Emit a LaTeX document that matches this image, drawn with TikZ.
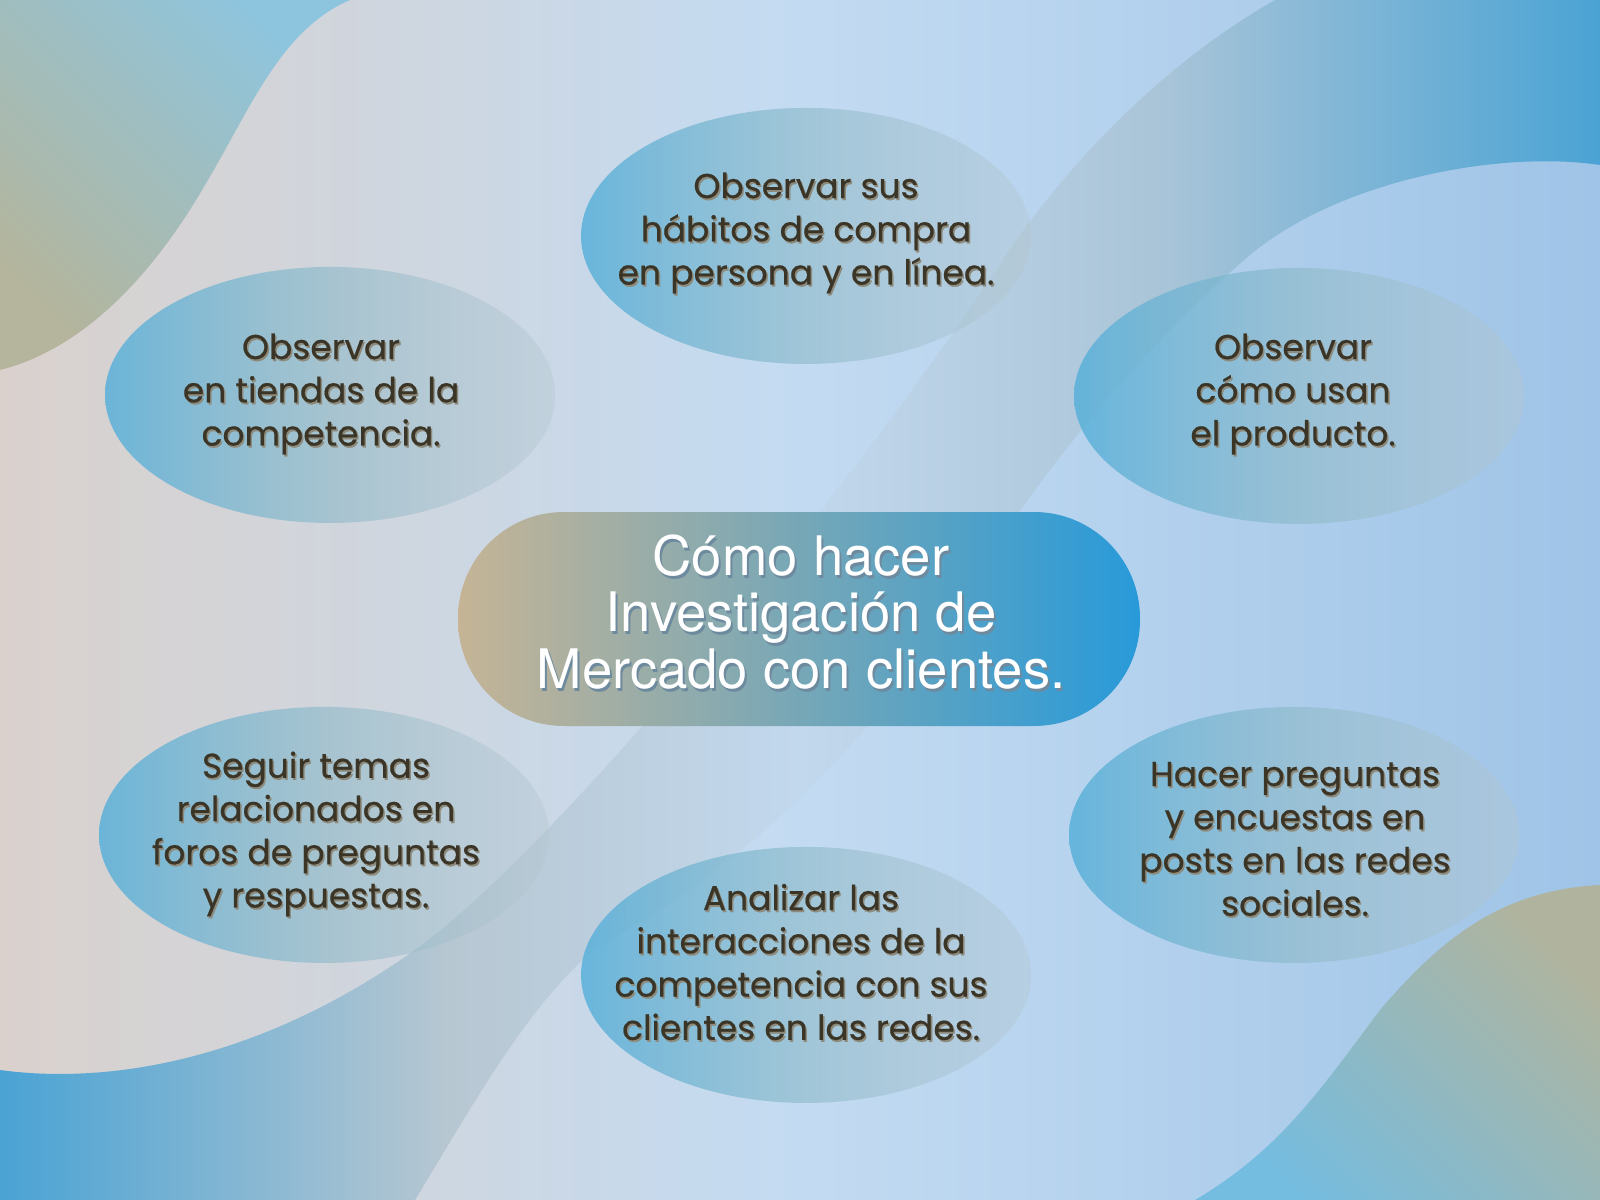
\documentclass[tikz,border=0pt]{standalone}
\usepackage{fontspec}
\setmainfont{Poppins}[FakeBold=0.5]
\newfontfamily\titlefont{TeX Gyre Heros}
\usetikzlibrary{shapes.geometric,fadings}

\definecolor{bgleft}{RGB}{218,209,205}
\definecolor{bgmid}{RGB}{195,219,242}
\definecolor{bgright}{RGB}{159,196,231}
\definecolor{bandblue}{RGB}{74,163,212}
\definecolor{bandgrayA}{RGB}{183,199,210}
\definecolor{bandgrayB}{RGB}{194,216,237}
\definecolor{bandgrayC}{RGB}{171,197,216}
\definecolor{tltan}{RGB}{180,181,156}
\definecolor{tlblue}{RGB}{142,197,222}
\definecolor{brtan}{RGB}{176,180,158}
\definecolor{brblue}{RGB}{116,188,224}
\definecolor{ellblue}{RGB}{88,176,218}
\definecolor{ellmid}{RGB}{140,185,200}
\definecolor{ellgray}{RGB}{180,198,206}
\definecolor{pilltan}{RGB}{197,180,149}
\definecolor{pillblue}{RGB}{40,154,217}
\definecolor{ideatext}{RGB}{58,53,38}
\definecolor{ideashade}{RGB}{142,139,124}
\definecolor{hubshade}{RGB}{110,138,158}

\pgfdeclarehorizontalshading{bandshade}{100bp}{color(0bp)=(bandblue); color(25bp)=(bandblue); color(39bp)=(bandgrayA); color(50bp)=(bandgrayB); color(61bp)=(bandgrayC); color(75bp)=(bandblue); color(100bp)=(bandblue)}
\tikzfading[name=bubblefade, left color=transparent!15, right color=transparent!62]

\begin{document}
\begin{tikzpicture}[x=0.1mm,y=-0.1mm,
    bubble/.style={ellipse, minimum width=45mm, minimum height=25.6mm, inner sep=0pt,
      left color=ellblue, right color=ellgray, middle color=ellmid, path fading=bubblefade},
    idea/.style={align=center, text=ideatext, font=\fontsize{9.8}{12.3}\selectfont},
    ideashadow/.style={idea, text=ideashade},
    hub/.style={rectangle, rounded corners=10.6mm, minimum width=68.2mm, minimum height=21.4mm,
      inner sep=0pt, left color=pilltan, right color=pillblue},
    hubtext/.style={align=center, text=white, font=\titlefont\fontsize{15.5}{16}\selectfont}]
  \useasboundingbox (0,0) rectangle (1600,1200);
  % background
  \shade[left color=bgleft, right color=bgright, middle color=bgmid] (0,0) rectangle (1600,1200);
  % diagonal wave
  \shade[shading=bandshade] (0,1070)
      .. controls (110,1085) and (260,1060) .. (415,950)
      .. controls (560,845) and (860,480) .. (1012,246)
      .. controls (1080,150) and (1170,60) .. (1275,0)
    -- (1600,0) -- (1600,165)
      .. controls (1500,150) and (1340,180) .. (1250,255)
      .. controls (1150,340) and (1060,450) .. (1000,540)
      .. controls (920,680) and (780,850) .. (600,945)
      .. controls (530,1000) and (470,1110) .. (415,1200)
    -- (0,1200) -- cycle;
  % corner blobs
  \shade[top color=tlblue, bottom color=tltan, shading angle=-45] (0,0) -- (350,0)
      .. controls (280,30) and (250,110) .. (205,185)
      .. controls (150,280) and (80,350) .. (0,370) -- cycle;
  \shade[top color=brtan, bottom color=brblue, shading angle=-45] (1600,885)
      .. controls (1500,890) and (1440,940) .. (1380,1010)
      .. controls (1320,1090) and (1280,1150) .. (1195,1200)
    -- (1600,1200) -- cycle;
  % bubbles
  \foreach \nm/\cx/\cy in {habitos/806/236, tiendas/330/395, producto/1299/396,
      foros/324/835, redes/806/975, encuestas/1294/835}
    \node[bubble] (\nm-bubble) at (\cx,\cy) {};
  % centre
  \node[hub] (hub) at (799,619) {};
  \node[hubtext, text=hubshade] (hub-shadow) at (803,615) {Cómo hacer\\Investigación de\\Mercado con clientes.};
  \node[hubtext] (hub-title) at (801,612) {Cómo hacer\\Investigación de\\Mercado con clientes.};
  % texts
  \foreach \nm/\tx/\ty/\txt in {
      habitos/806/233/{Observar sus\\hábitos de compra\\en persona y en línea.},
      tiendas/321/394/{Observar\\en tiendas de la\\competencia.},
      producto/1293/394/{Observar\\cómo usan\\el producto.},
      foros/316/834/{Seguir temas\\relacionados en\\foros de preguntas\\y respuestas.},
      redes/801/962/{Analizar las\\interacciones de la\\competencia con sus\\clientes en las redes.},
      encuestas/1295/839/{Hacer preguntas\\y encuestas en\\posts en las redes\\sociales.}}{
    \node[ideashadow] (\nm-shadow) at (\tx+1.5,\ty+2) {\txt};
    \node[idea] (\nm) at (\tx,\ty) {\txt};
  }
\end{tikzpicture}
\end{document}
